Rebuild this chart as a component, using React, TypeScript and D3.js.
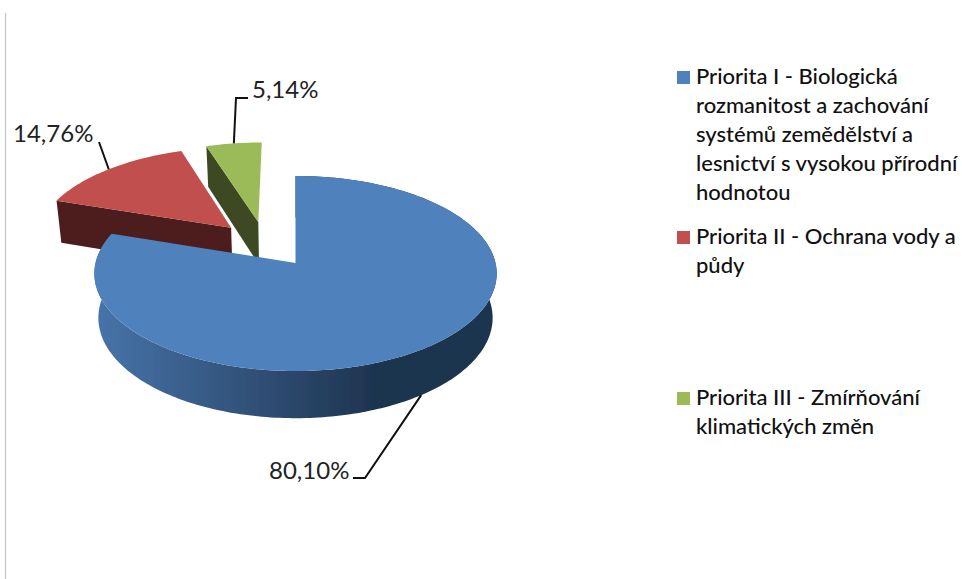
import React from "react";
import * as d3 from "d3";

// Values and labels
const sliceNames = ["Priorita I", "Priorita II", "Priorita III"];
const sliceValues = [80.1, 14.76, 5.14];
const sliceLabels = ["80,10%", "14,76%", "5,14%"];
const topColors = ["#4f81bd", "#c0504d", "#9bbb59"];
const wallColors = ["url(#blueWall)", "#4e1d1c", "#3e4a22"];
const legendLines = [
  [
    "Priorita I - Biologická",
    "rozmanitost a zachování",
    "systémů zemědělství a",
    "lesnictví s vysokou přírodní",
    "hodnotou",
  ],
  ["Priorita II - Ochrana vody a", "půdy"],
  ["Priorita III - Zmírňování", "klimatických změn"],
];

const width = 962;
const height = 579;
const font = "Lato, 'Noto Sans', sans-serif";

// Perspective model of the tilted disc
const cx = 295.5;
const cy = 263;
const rx = 200;
const ry = 96.4;
const persp = 0.1077;
const depth = 44;
const baseScale = 0.98;

// Explode offsets in disc units, per slice
const explodeU = [0, -0.335, -0.195];
const explodeV = [0, 0.38, 0.445];

// Where each label and its leader go
const leaderBends = [
  [[365, 478], [353, 478]],
  [[99, 142]],
  [[236, 98], [248, 98]],
];
const labelPos = [
  [269, 479],
  [13, 142],
  [252, 98],
];
const legendTop = [84, 244, 405];
const lineStep = 29;

type Pt = [number, number];

function project(i: number, a: number, r: number, low: boolean): Pt {
  const u = explodeU[i] + r * Math.sin(a);
  const v = explodeV[i] + r * Math.cos(a);
  const f = 1 + persp * v;
  const s = low ? baseScale : 1;
  return [
    cx + (rx * s * u) / f,
    cy + ((low ? depth : 0) - ry * s * v) / f,
  ];
}

const pieGen = d3
  .pie<number>()
  .sort(null)
  .startAngle(0)
  .endAngle(2 * Math.PI);
const slices = pieGen(sliceValues);

const line = d3.line<Pt>().curve(d3.curveLinear);

function arcPoints(i: number, a0: number, a1: number, low: boolean): Pt[] {
  const n = Math.ceil(Math.abs(a1 - a0) / 0.02);
  return d3.range(n + 1).map((k) => project(i, a0 + ((a1 - a0) * k) / n, 1, low));
}

const App: React.FC = () => {
  // paint back to front: red, green, then the big blue slice over them
  const order = [1, 2, 0];
  return (
    <svg
      width={width}
      height={height}
      viewBox={`0 0 ${width} ${height}`}
      style={{ position: "absolute", left: 0, top: 0, background: "#fff" }}
    >
      <defs>
        <linearGradient id="blueWall" gradientUnits="userSpaceOnUse" x1={100} x2={375} y1={0} y2={0}>
          <stop offset="0" stopColor="#4673a8" />
          <stop offset="0.6" stopColor="#2f4d73" />
          <stop offset="1" stopColor="#1e3450" />
        </linearGradient>
        <filter id="soft" x="-5%" y="-5%" width="110%" height="110%">
          <feGaussianBlur stdDeviation="0.5" />
        </filter>
      </defs>

      <line x1={5.5} x2={5.5} y1={13} y2={579} stroke="#c4c4c4" strokeWidth={1.2} />

      <g filter="url(#soft)">
        {order.map((i) => {
          const s = slices[i];
          const top = arcPoints(i, s.startAngle, s.endAngle, false);
          const bottom = arcPoints(i, s.startAngle, s.endAngle, true);
          const apexTop = project(i, 0, 0, false);
          const apexLow = project(i, 0, 0, true);
          const rimTop = project(i, s.startAngle, 1, false);
          const rimLow = project(i, s.startAngle, 1, true);
          return (
            <g key={sliceNames[i]}>
              {/* the blue slice shows its rim, the other two show the cut face */}
              {i === 0 ? (
                <path d={line([...top, ...bottom.slice().reverse()])! + "Z"} fill={wallColors[i]} />
              ) : (
                <path d={line([apexTop, rimTop, rimLow, apexLow])! + "Z"} fill={wallColors[i]} />
              )}
              <path d={line([apexTop, ...top])! + "Z"} fill={topColors[i]} />
            </g>
          );
        })}
      </g>

      {slices.map((s, i) => {
        const mid = (s.startAngle + s.endAngle) / 2;
        const start = project(i, mid, 1, i === 0);
        return (
          <path
            key={sliceNames[i]}
            d={line([start, ...(leaderBends[i] as Pt[])])!}
            fill="none"
            stroke="#111"
            strokeWidth={2}
          />
        );
      })}

      {sliceLabels.map((t, i) => (
        <text key={t} x={labelPos[i][0]} y={labelPos[i][1]} fontFamily={font} fontSize={24} fill="#222">
          {t}
        </text>
      ))}

      {legendLines.map((lines, i) => (
        <g key={i}>
          <rect x={677} y={legendTop[i] - 13} width={13} height={13} fill={topColors[i]} />
          {lines.map((t, k) => (
            <text
              key={t}
              x={696}
              y={legendTop[i] + k * lineStep}
              fontFamily={font}
              fontSize={22}
              fontWeight={500}
              fill="#111"
            >
              {t}
            </text>
          ))}
        </g>
      ))}
    </svg>
  );
};

export default App;
